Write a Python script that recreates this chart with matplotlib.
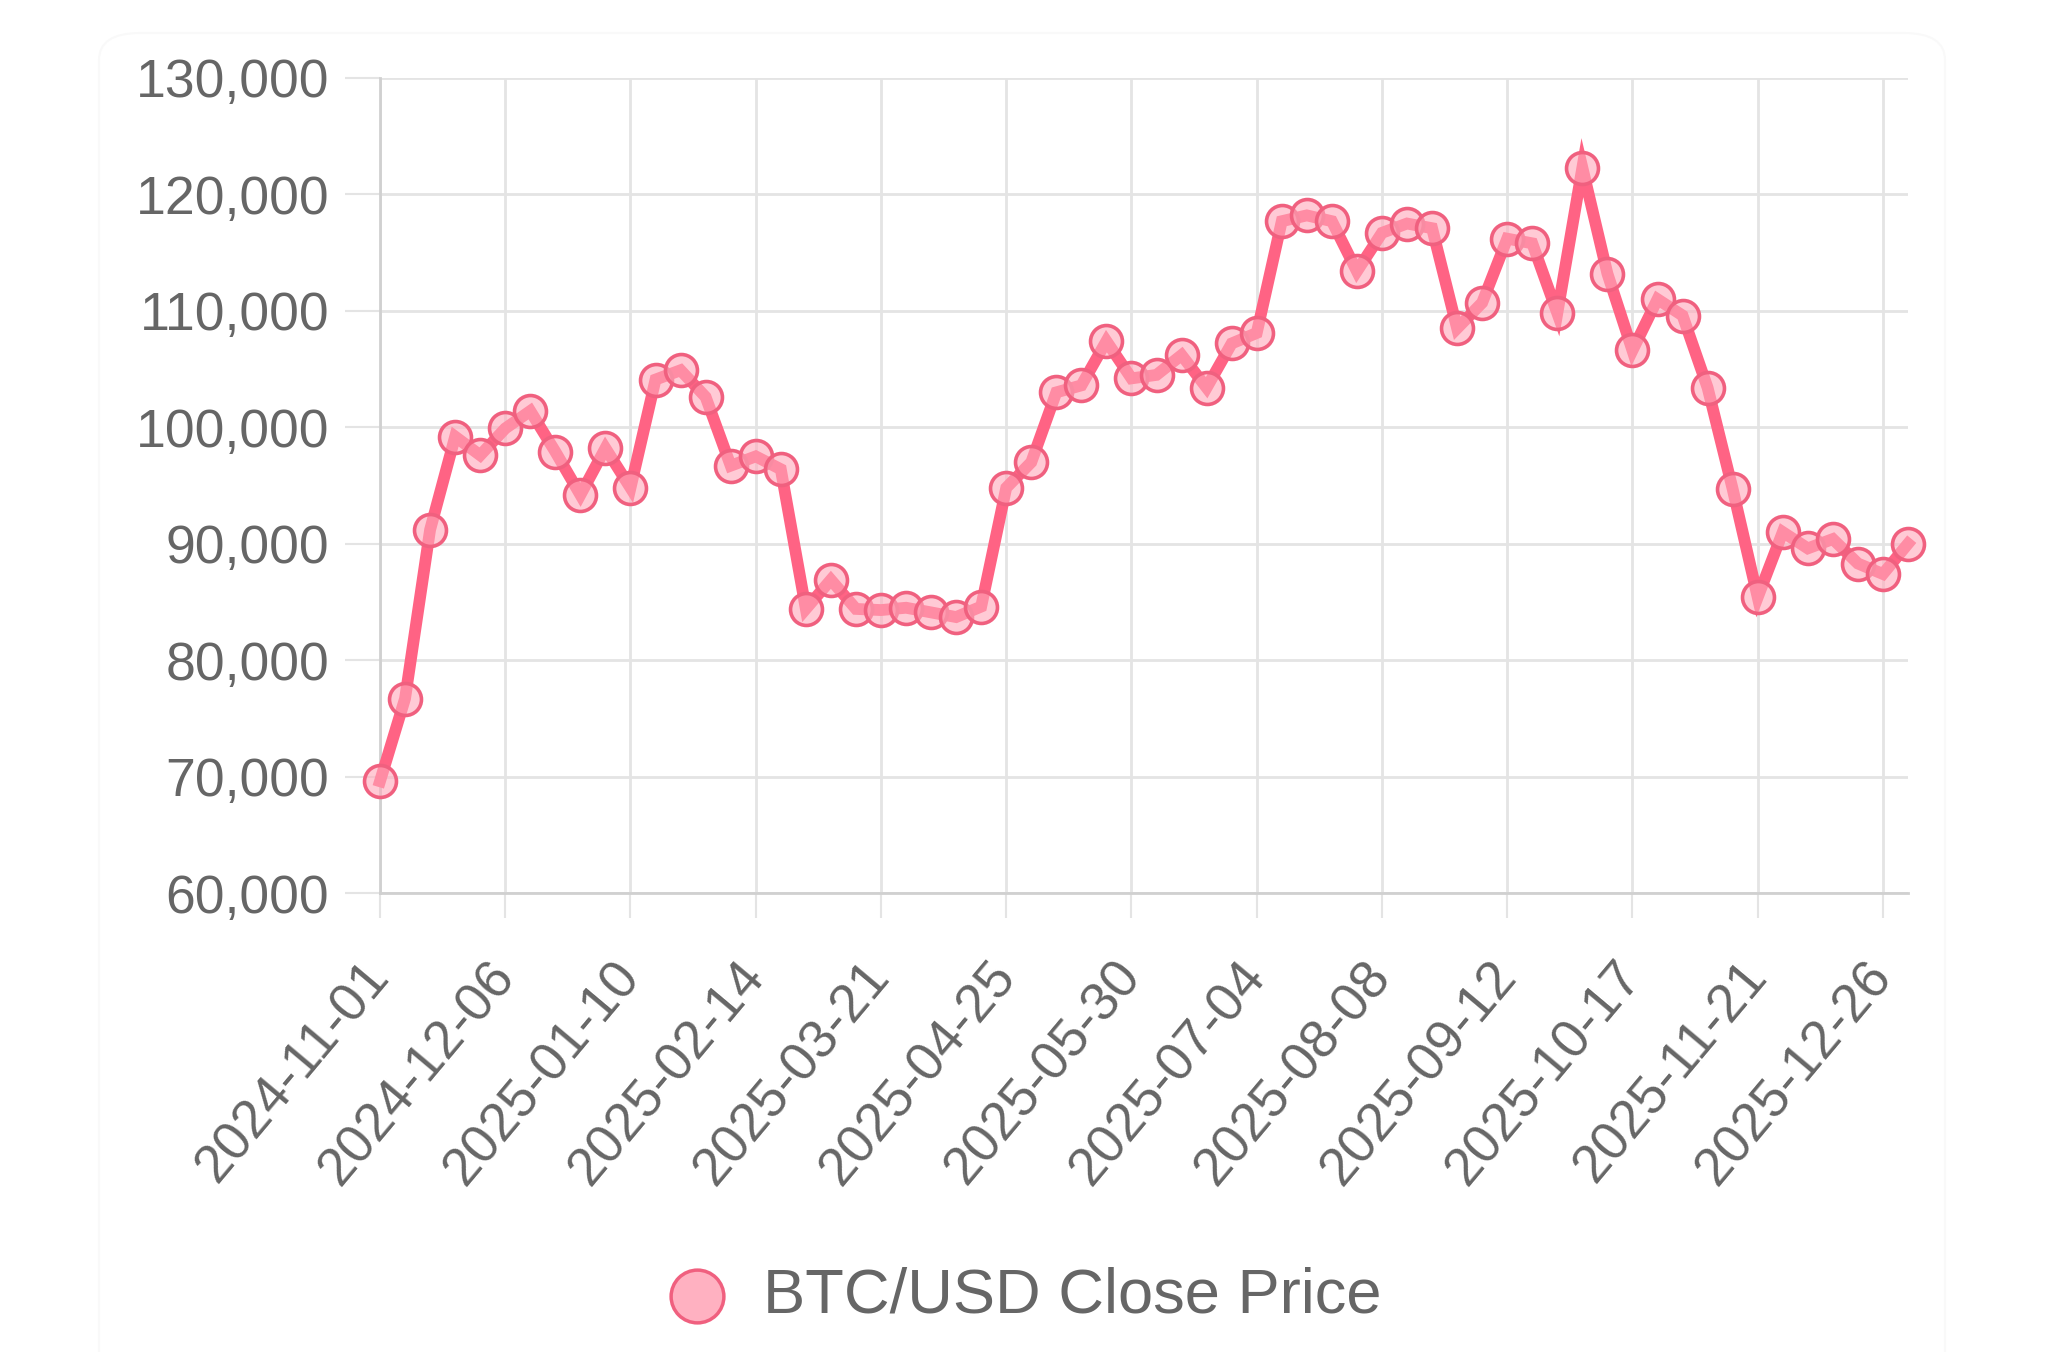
import matplotlib
matplotlib.use("Agg")
import matplotlib.pyplot as plt
from matplotlib.lines import Line2D
from matplotlib.patches import FancyBboxPatch
import numpy as np
import pandas as pd

# weekly closes
dates = pd.date_range("2024-11-01", periods=62, freq="7D")
close = [69600, 76700, 91200, 99200, 97600, 99900, 101400, 97900, 94200, 98200,
         94800, 104100, 104900, 102600, 96700, 97500, 96400, 84400, 86900, 84400,
         84300, 84500, 84100, 83700, 84600, 94800, 97000, 103000, 103600, 107400,
         104200, 104500, 106200, 103400, 107200, 108100, 117700, 118200, 117700, 113400,
         116700, 117500, 117100, 108500, 110700, 116200, 115800, 109800, 122300, 113200,
         106600, 111000, 109600, 103400, 94700, 85400, 91000, 89600, 90400, 88300,
         87400, 90000]
label = "BTC/USD Close Price"
yticks = [60000, 70000, 80000, 90000, 100000, 110000, 120000, 130000]

W, H = 2060, 1352
plt.rcParams["font.family"] = ["Liberation Sans", "DejaVu Sans"]
fig = plt.figure(figsize=(W / 100, H / 100), dpi=100)
fig.patch.set_facecolor("white")

# faint card outline
card = FancyBboxPatch((99 / W, -0.05), 1846 / W, 1.05 - 33 / H,
                      boxstyle="round,pad=0,rounding_size=0.02",
                      transform=fig.transFigure, facecolor="none",
                      edgecolor="#f9f9f9", linewidth=1.5, zorder=-5)
fig.patches.append(card)

ax = fig.add_axes([380 / W, 1 - 893 / H, (1908 - 380) / W, (893 - 78) / H])
ax.set_facecolor("none")

line_col = "#ff6384"
x = np.arange(len(close))
ax.plot(x, close, color=line_col, lw=8.5, solid_joinstyle="miter",
        marker="o", ms=23, mfc=(1.0, 0.66, 0.73, 0.6), mec="#f0607f", mew=2.6,
        clip_on=False, zorder=3)

ax.set_xlim(0, len(close) - 1)
ax.set_ylim(60000, 130000)
ax.set_yticks(yticks)
ax.set_yticklabels([f"{v:,}" for v in yticks])
tick_idx = list(range(0, len(close), 5))
ax.set_xticks(tick_idx)
ax.set_xticklabels([dates[i].strftime("%Y-%m-%d") for i in tick_idx],
                   rotation=50, ha="right", va="center", rotation_mode="anchor")

grid_col = "#e4e4e4"
ax.grid(True, color=grid_col, lw=2, zorder=0)
for s in ["top", "right"]:
    ax.spines[s].set_visible(False)
for s in ["left", "bottom"]:
    ax.spines[s].set_color("#d0d0d0")
    ax.spines[s].set_linewidth(2)
ax.tick_params(axis="y", length=25, width=1.5, color=grid_col, pad=11.5,
               labelsize=38.5, labelcolor="#666666")
ax.tick_params(axis="x", length=18, width=1.5, color=grid_col, pad=36,
               labelsize=38.5, labelcolor="#666666")

# legend drawn by hand under the plot
ly = 1 - 1296 / H
fig.lines.append(Line2D([697 / W], [ly], transform=fig.transFigure, marker="o",
                        ms=38, mfc="#ffb1c1", mec="#f0607f", mew=2.5, ls=""))
fig.text(763 / W, ly, label, fontsize=45.5, color="#666666", va="center", ha="left")

fig.savefig("out.png", dpi=100)
